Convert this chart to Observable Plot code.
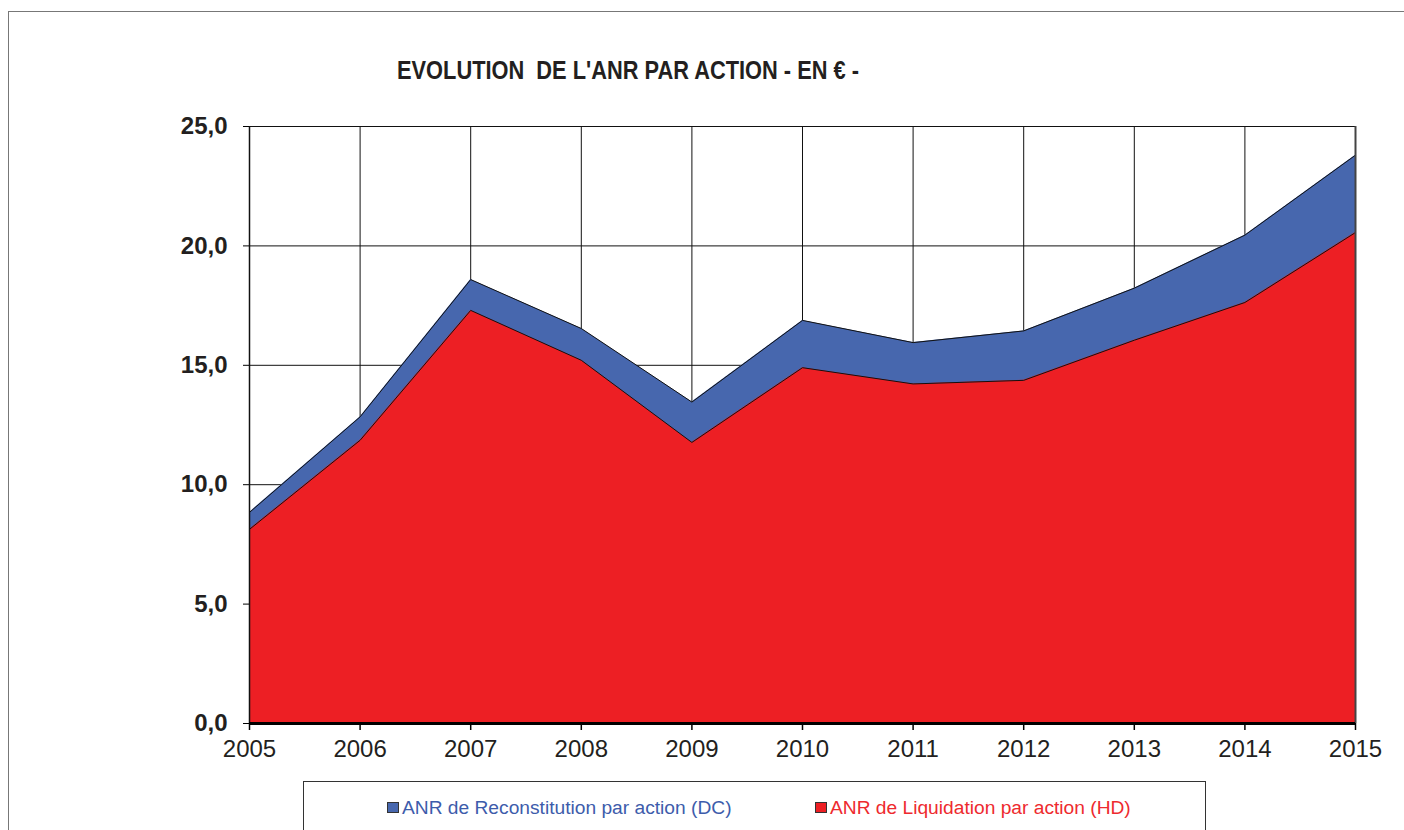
<!DOCTYPE html>
<html>
<head>
<meta charset="utf-8">
<script src="https://cdn.jsdelivr.net/npm/d3@7"></script>
<script src="https://cdn.jsdelivr.net/npm/@observablehq/plot@0.6"></script>
<style>
  html, body { margin: 0; padding: 0; background: #fff; overflow: hidden; }
  #wrap { position: relative; width: 1404px; height: 830px; overflow: hidden; font-family: "Liberation Sans", Arial, sans-serif; }
  #frame { position: absolute; left: 8px; top: 11px; width: 1420px; height: 840px; border: 1.5px solid #777; box-sizing: border-box; }
  #title { position: absolute; left: 397px; top: 58px; font-size: 25px; line-height: 25px; font-weight: bold; color: #231f20; white-space: pre; transform-origin: 0 0; }
  #chart { position: absolute; left: 0; top: 0; }
  #legend { position: absolute; left: 303px; top: 781px; width: 903px; height: 70px; border: 1.5px solid #333; box-sizing: border-box; background: #fff; }
  .item { position: absolute; top: 14px; font-size: 19.2px; line-height: 24px; white-space: nowrap; }
  .sw { display: inline-block; width: 10px; height: 9px; border: 1px solid #333; margin-right: 3px; vertical-align: 1px; }
</style>
</head>
<body>
<div id="wrap">
  <div id="frame"></div>
  <div id="chart"></div>
  <div id="title"></div>
  <div id="legend"></div>
</div>
<script>
const years = [2005, 2006, 2007, 2008, 2009, 2010, 2011, 2012, 2013, 2014, 2015];
const dcValues = [8.84, 12.84, 18.59, 16.54, 13.46, 16.88, 15.95, 16.44, 18.23, 20.45, 23.80];
const hdValues = [8.13, 11.86, 17.30, 15.21, 11.77, 14.90, 14.22, 14.37, 16.05, 17.63, 20.56];
const yTicks = [0, 5, 10, 15, 20, 25];
const titleText = "EVOLUTION  DE L'ANR PAR ACTION - EN € -";
const seriesNames = ["ANR de Reconstitution par action (DC)", "ANR de Liquidation par action (HD)"];
const blue = "#4767AE";
const red = "#ED1F24";

const dc = years.map((year, i) => ({year, value: dcValues[i]}));
const hd = years.map((year, i) => ({year, value: hdValues[i]}));
const fmt = d => d3.format(".1f")(d).replace(".", ",");

const chart = Plot.plot({
  width: 1404,
  height: 780,
  marginLeft: 249,
  marginRight: 49,
  marginTop: 126,
  marginBottom: 57,
  style: {fontFamily: "'Liberation Sans', Arial, sans-serif", background: "transparent", color: "#231f20"},
  x: {domain: [2005, 2015], label: null},
  y: {domain: [0, 25], label: null},
  marks: [
    Plot.ruleX(years, {x: d => d, y1: 0, y2: 25, stroke: "#111", strokeWidth: 1}),
    Plot.ruleY(yTicks, {y: d => d, x1: 2005, x2: 2015, stroke: "#111", strokeWidth: 1}),
    Plot.areaY(dc, {x: "year", y: "value", fill: blue}),
    Plot.lineY(dc, {x: "year", y: "value", stroke: "#111", strokeWidth: 1}),
    Plot.areaY(hd, {x: "year", y: "value", fill: red}),
    Plot.lineY(hd, {x: "year", y: "value", stroke: "#111", strokeWidth: 1}),
    Plot.ruleX([2005], {y1: 0, y2: 25, stroke: "#111", strokeWidth: 1.5}),
    Plot.ruleX([2015], {y1: 0, y2: 25, stroke: "#444", strokeWidth: 2}),
    Plot.ruleY([0], {x1: 2005, x2: 2015, stroke: "#000", strokeWidth: 3}),
    Plot.axisX({ticks: years, tickFormat: d => String(d), tickSize: 7, tickPadding: 9, fontSize: 24, stroke: "#000", strokeWidth: 1.5, label: null}),
    Plot.axisY({ticks: yTicks, tickFormat: fmt, tickSize: 6, tickPadding: 16, fontSize: 24, fontWeight: "bold", stroke: "#000", strokeWidth: 1, label: null})
  ]
});
document.getElementById("chart").appendChild(chart);

const title = document.getElementById("title");
title.textContent = titleText;
const targetW = 462;
const w = title.getBoundingClientRect().width;
title.style.transform = `scaleX(${targetW / w})`;

const legend = document.getElementById("legend");
const items = [
  {name: seriesNames[0], color: blue, text: "#3D5CAB", left: 83},
  {name: seriesNames[1], color: red, text: "#EE2A2E", left: 511}
];
for (const it of items) {
  const el = document.createElement("div");
  el.className = "item";
  el.style.left = it.left + "px";
  el.style.color = it.text;
  const sw = document.createElement("span");
  sw.className = "sw";
  sw.style.background = it.color;
  el.appendChild(sw);
  el.appendChild(document.createTextNode(it.name));
  legend.appendChild(el);
}
</script>
</body>
</html>
